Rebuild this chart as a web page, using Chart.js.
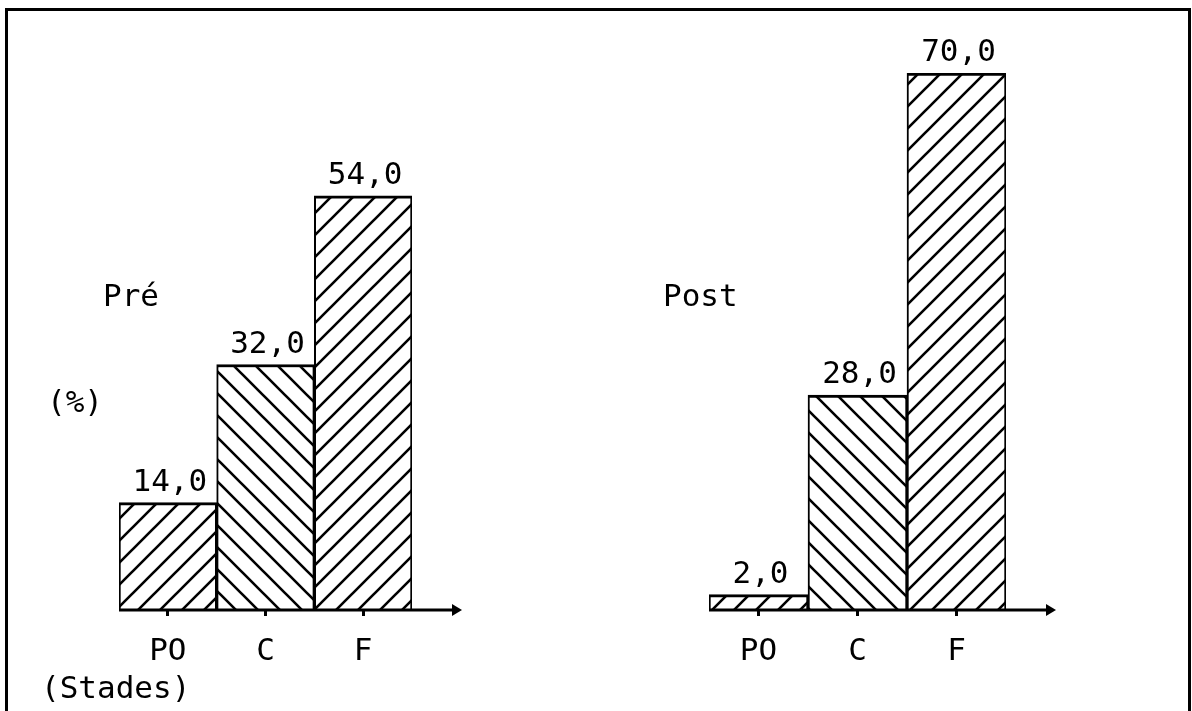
<!DOCTYPE html>
<html>
<head>
<meta charset="utf-8">
<script src="https://cdn.jsdelivr.net/npm/chart.js@4/dist/chart.umd.min.js"></script>
<style>
  body { margin: 0; background: #fff; }
  #page { position: relative; width: 1192px; height: 711px; overflow: hidden; background: #fff; }
  #cadre { position: absolute; left: 5px; top: 8px; width: 1180px; height: 800px; border: 3px solid #000; }
  canvas { position: absolute; top: 0; }
  .txt { position: absolute; font-family: "DejaVu Sans Mono", monospace; font-size: 31px; line-height: 30px; color: #000; white-space: nowrap; }
</style>
</head>
<body>
<div id="page">
  <div id="cadre"></div>
  <canvas id="graphPre" width="596" height="711" style="left:0"></canvas>
  <canvas id="graphPost" width="596" height="711" style="left:596px"></canvas>
  <div class="txt" style="left:103px; top:280px">Pré</div>
  <div class="txt" style="left:663px; top:280px">Post</div>
  <div class="txt" style="left:47px; top:386px">(%)</div>
  <div class="txt" style="left:41px; top:672px">(Stades)</div>
</div>
<script>
const categories = ['PO', 'C', 'F'];
const preValues = [14.0, 32.0, 54.0];
const postValues = [2.0, 28.0, 70.0];
const yMax = 70;

const police = '"DejaVu Sans Mono", monospace';

// hachures
function hachure(sens) {
    const s = 22;
    const c = document.createElement('canvas');
    c.width = s; c.height = s;
    const g = c.getContext('2d');
    g.fillStyle = '#fff';
    g.fillRect(0, 0, s, s);
    g.strokeStyle = '#000';
    g.lineWidth = 2.6;
    g.beginPath();
    if (sens === '/') {
        g.moveTo(-2, s + 2); g.lineTo(s + 2, -2);
        g.moveTo(-2, 2); g.lineTo(2, -2);
        g.moveTo(s - 2, s + 2); g.lineTo(s + 2, s - 2);
    } else {
        g.moveTo(-2, -2); g.lineTo(s + 2, s + 2);
        g.moveTo(-2, s - 2); g.lineTo(2, s + 2);
        g.moveTo(s - 2, -2); g.lineTo(s + 2, 2);
    }
    g.stroke();
    return g.createPattern(c, 'repeat');
}

const axeFleche = {
    id: 'axeFleche',
    afterDatasetsDraw(chart) {
        const ctx = chart.ctx;
        const a = chart.chartArea;
        const y = a.bottom;
        const fin = a.right + 50;
        ctx.save();
        ctx.strokeStyle = '#000';
        ctx.fillStyle = '#000';
        ctx.lineWidth = 3;
        ctx.beginPath();
        ctx.moveTo(a.left, y);
        ctx.lineTo(fin - 6, y);
        ctx.stroke();
        ctx.beginPath();
        ctx.moveTo(fin, y);
        ctx.lineTo(fin - 10, y - 6);
        ctx.lineTo(fin - 10, y + 6);
        ctx.closePath();
        ctx.fill();
        // valeurs
        ctx.font = '31px ' + police;
        ctx.textAlign = 'center';
        ctx.textBaseline = 'alphabetic';
        const meta = chart.getDatasetMeta(0);
        const vals = chart.data.datasets[0].data;
        meta.data.forEach((bar, i) => {
            ctx.fillText(vals[i].toFixed(1).replace('.', ','), bar.x + 2, bar.y - 12);
        });
        ctx.restore();
    }
};

function crearGrafica(id, valeurs, padGauche, padDroite) {
    const ctx = document.getElementById(id).getContext('2d');
    return new Chart(ctx, {
        type: 'bar',
        data: {
            labels: categories,
            datasets: [{
                data: valeurs,
                backgroundColor: [hachure('/'), hachure('\\'), hachure('/')],
                borderColor: '#000',
                borderWidth: { top: 3, left: 2, right: 2, bottom: 0 },
                borderSkipped: false,
                barPercentage: 1,
                categoryPercentage: 1
            }]
        },
        options: {
            responsive: false,
            animation: false,
            layout: { padding: { left: padGauche, right: padDroite, top: 73, bottom: 0 } },
            plugins: { legend: { display: false }, tooltip: { enabled: false } },
            scales: {
                x: {
                    offset: true,
                    border: { display: false },
                    grid: { drawOnChartArea: false, offset: false, tickLength: 6, color: '#000', lineWidth: 3 },
                    ticks: { color: '#000', font: { family: police, size: 31 }, padding: 17 },
                    afterFit(s) { s.height = 101; }
                },
                y: { display: false, min: 0, max: yMax }
            }
        },
        plugins: [axeFleche]
    });
}

crearGrafica('graphPre', preValues, 119, 184);
crearGrafica('graphPost', postValues, 113, 186);
</script>
</body>
</html>
